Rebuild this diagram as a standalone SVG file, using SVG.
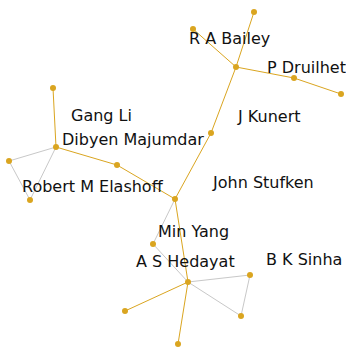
<svg xmlns="http://www.w3.org/2000/svg" width="346" height="349" viewBox="0 0 346 349">
<style>
.o{stroke:#DAA520;stroke-width:1;fill:none}
.g{stroke:#c8c8c8;stroke-width:1;fill:none}
.n{fill:#DAA520}
text{font-family:"DejaVu Sans",sans-serif;font-size:16px;fill:#111}
</style>
<rect width="346" height="349" fill="#fff"/>
<g id="connectors">
<polyline class="o" points="254,12 236,67 211,133 175,199"/>
<line class="o" x1="193" y1="29" x2="236" y2="67"/>
<polyline class="o" points="236,67 294,78 341,94"/>
<line class="o" x1="53" y1="88" x2="56" y2="147"/>
<polyline class="o" points="56,147 117,165 175,199"/>
<line class="o" x1="175" y1="199" x2="188" y2="282"/>
<line class="o" x1="188" y1="282" x2="125" y2="311"/>
<line class="o" x1="188" y1="282" x2="178" y2="344"/>
<polygon class="g" points="56,147 9,161 30,200"/>
<polyline class="g" points="175,199 153,244 188,282"/>
<polygon class="g" points="188,282 250,275 241,316"/>
</g>
<g id="n1"><circle class="n" cx="254" cy="12" r="3"/></g>
<g id="n2"><circle class="n" cx="193" cy="29" r="3"/><text x="189" y="44">R A Bailey</text></g>
<g id="n3"><circle class="n" cx="236" cy="67" r="3"/></g>
<g id="n4"><circle class="n" cx="294" cy="78" r="3"/><text x="267" y="73">P Druilhet</text></g>
<g id="n5"><circle class="n" cx="341" cy="94" r="3"/></g>
<g id="n6"><circle class="n" cx="211" cy="133" r="3"/><text x="238" y="122">J Kunert</text></g>
<g id="n7"><circle class="n" cx="175" cy="199" r="3"/><text x="213" y="188">John Stufken</text></g>
<g id="n8"><circle class="n" cx="53" cy="88" r="3"/><text x="71" y="121">Gang Li</text></g>
<g id="n9"><circle class="n" cx="56" cy="147" r="3"/><text x="62" y="145">Dibyen Majumdar</text></g>
<g id="n10"><circle class="n" cx="117" cy="165" r="3"/></g>
<g id="n11"><circle class="n" cx="9" cy="161" r="3"/></g>
<g id="n12"><circle class="n" cx="30" cy="200" r="3"/><text x="22" y="192">Robert M Elashoff</text></g>
<g id="n13"><circle class="n" cx="153" cy="244" r="3"/><text x="158" y="237">Min Yang</text></g>
<g id="n14"><circle class="n" cx="188" cy="282" r="3"/><text x="136" y="267">A S Hedayat</text></g>
<g id="n15"><circle class="n" cx="250" cy="275" r="3"/><text x="266" y="265">B K Sinha</text></g>
<g id="n16"><circle class="n" cx="241" cy="316" r="3"/></g>
<g id="n17"><circle class="n" cx="125" cy="311" r="3"/></g>
<g id="n18"><circle class="n" cx="178" cy="344" r="3"/></g>
</svg>
